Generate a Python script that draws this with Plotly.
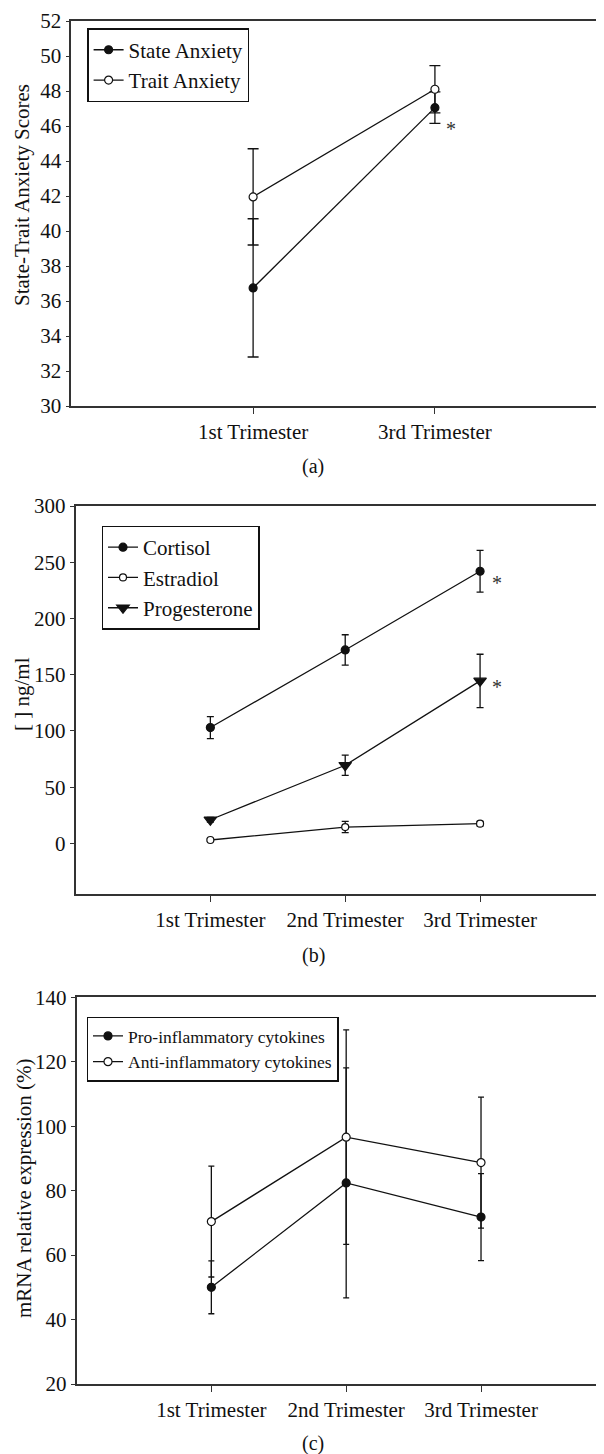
import plotly.graph_objects as go

# ---------------- data ----------------
# Panel (a)
categories_a = ["1st Trimester", "3rd Trimester"]
state_mean = [36.75, 47.05]
state_err = [3.95, 0.90]
trait_mean = [41.95, 48.10]
trait_err = [2.75, 1.35]

# Panel (b)
categories_b = ["1st Trimester", "2nd Trimester", "3rd Trimester"]
cortisol_mean = [103.0, 172.0, 242.0]
cortisol_err = [9.8, 13.5, 18.5]
estradiol_mean = [3.0, 14.5, 17.5]
estradiol_err = [1.0, 5.0, 2.0]
progesterone_mean = [21.0, 69.5, 144.5]
progesterone_err = [2.0, 9.0, 23.7]

# Panel (c)
categories_c = ["1st Trimester", "2nd Trimester", "3rd Trimester"]
pro_mean = [50.0, 82.4, 71.8]
pro_err = [8.2, 35.7, 13.5]
anti_mean = [70.4, 96.6, 88.7]
anti_err = [17.2, 33.3, 20.35]

# y tick values
yticks_a = list(range(30, 53, 2))
yticks_b = [0, 50, 100, 150, 200, 250, 300]
yticks_c = [20, 40, 60, 80, 100, 120, 140]

# ---------------- style ----------------
FONT = "Liberation Serif"
INK = "#111111"
AXIS = "#333333"
# page body has an 8px margin: figure occupies 596x1446 starting at (8, 8)
OFF = 8
W, H = 604 - OFF, 1454 - OFF

fig = go.Figure()


def xpos(cats):
    return list(range(1, len(cats) + 1))


def add_series(cats, mean, err, name, symbol, filled, size, capw, xa, ya, legend):
    fig.add_trace(go.Scatter(
        x=xpos(cats), y=mean, name=name, mode="lines+markers",
        xaxis=xa, yaxis=ya, legend=legend,
        line=dict(color=INK, width=1.3),
        marker=dict(symbol=symbol, size=size,
                    color=INK if filled else "white",
                    line=dict(color=INK, width=1.2)),
        error_y=dict(type="data", array=err, visible=True, color=INK,
                     thickness=1.3, width=capw),
    ))


# Panel (a)
add_series(categories_a, state_mean, state_err, "State Anxiety", "circle", True, 8, 5.5, "x", "y", "legend")
add_series(categories_a, trait_mean, trait_err, "Trait Anxiety", "circle", False, 8, 5.5, "x", "y", "legend")

# Panel (b)
add_series(categories_b, cortisol_mean, cortisol_err, "Cortisol", "circle", True, 8, 3.5, "x2", "y2", "legend2")
add_series(categories_b, estradiol_mean, estradiol_err, "Estradiol", "circle", False, 7, 3.5, "x2", "y2", "legend2")
add_series(categories_b, progesterone_mean, progesterone_err, "Progesterone", "triangle-down", True, 11, 3.5, "x2", "y2", "legend2")

# Panel (c)
add_series(categories_c, pro_mean, pro_err, "Pro-inflammatory cytokines", "circle", True, 8, 3, "x3", "y3", "legend3")
add_series(categories_c, anti_mean, anti_err, "Anti-inflammatory cytokines", "circle", False, 8, 3, "x3", "y3", "legend3")


def px(x):
    return (x - OFF) / W


def py(y):
    return 1 - (y - OFF) / H


def xaxis_cfg(cats, domain, rng):
    return dict(
        domain=domain, range=rng, tickmode="array",
        tickvals=xpos(cats), ticktext=cats,
        showline=True, linecolor=AXIS, linewidth=1.6, mirror=True,
        ticks="outside", ticklen=6, tickwidth=1.3, tickcolor=AXIS,
        showgrid=False, zeroline=False, fixedrange=True, automargin=False,
        tickfont=dict(family=FONT, size=21, color=INK),
    )


def yaxis_cfg(domain, rng, tickvals, anchor):
    return dict(
        domain=domain, range=rng, tickmode="array", tickvals=tickvals,
        showline=True, linecolor=AXIS, linewidth=1.6, mirror=False,
        ticks="outside", ticklen=4, tickwidth=1.3, tickcolor=AXIS,
        showgrid=False, zeroline=False, anchor=anchor, fixedrange=True,
        automargin=False,
        tickfont=dict(family=FONT, size=21, color=INK),
    )


fig.update_layout(
    width=W, height=H, autosize=False,
    margin=dict(l=0, r=0, t=0, b=0, pad=0, autoexpand=False),
    paper_bgcolor="white", plot_bgcolor="white",
    font=dict(family=FONT, color=INK),
    xaxis=xaxis_cfg(categories_a, [px(71.3), 1.0], [0, 2.93]),
    yaxis=yaxis_cfg([py(406), py(21)], [30, 52], yticks_a, "x"),
    xaxis2=dict(xaxis_cfg(categories_b, [px(75.5), 1.0], [0, 3.919]), anchor="y2"),
    yaxis2=yaxis_cfg([py(894), py(506)], [-45, 300], yticks_b, "x2"),
    xaxis3=dict(xaxis_cfg(categories_c, [px(76.5), 1.0], [0, 3.912]), anchor="y3"),
    yaxis3=yaxis_cfg([py(1384), py(997.3)], [20, 140], yticks_c, "x3"),
    legend=dict(x=px(87.3), y=py(28.3), xanchor="left", yanchor="top",
                bordercolor=INK, borderwidth=1.3, bgcolor="white",
                font=dict(family=FONT, size=21, color=INK), tracegroupgap=0),
    legend2=dict(x=px(101.7), y=py(525.7), xanchor="left", yanchor="top",
                 bordercolor=INK, borderwidth=1.3, bgcolor="white",
                 font=dict(family=FONT, size=21, color=INK), tracegroupgap=0),
    legend3=dict(x=px(86.7), y=py(1016.7), xanchor="left", yanchor="top",
                 bordercolor=INK, borderwidth=1.3, bgcolor="white",
                 font=dict(family=FONT, size=17.5, color=INK), tracegroupgap=0),
    showlegend=True,
)

annotations = [
    # y-axis titles
    dict(text="State-Trait Anxiety Scores", x=px(22), y=py(195), textangle=-90),
    dict(text="[ ] ng/ml", x=px(22), y=py(694), textangle=-90),
    dict(text="mRNA relative expression (%)", x=px(24), y=py(1188), textangle=-90),
    # panel captions
    dict(text="(a)", x=px(313), y=py(466.7)),
    dict(text="(b)", x=px(313), y=py(955)),
    dict(text="(c)", x=px(313), y=py(1443)),
]
for a in annotations:
    fig.add_annotation(xref="paper", yref="paper", showarrow=False,
                       xanchor="center", yanchor="middle",
                       font=dict(family=FONT, size=21 if "textangle" in a else 20, color=INK),
                       **a)

# significance asterisks
fig.add_annotation(x=2, y=46.0, xref="x", yref="y", text="*", showarrow=False,
                   xshift=16, yshift=-3, font=dict(family=FONT, size=20, color="#333333"))
fig.add_annotation(x=3, y=235.6, xref="x2", yref="y2", text="*", showarrow=False,
                   xshift=17, yshift=-5, font=dict(family=FONT, size=20, color="#333333"))
fig.add_annotation(x=3, y=143.7, xref="x2", yref="y2", text="*", showarrow=False,
                   xshift=17, yshift=-5, font=dict(family=FONT, size=20, color="#333333"))

fig.write_html("out.html")
